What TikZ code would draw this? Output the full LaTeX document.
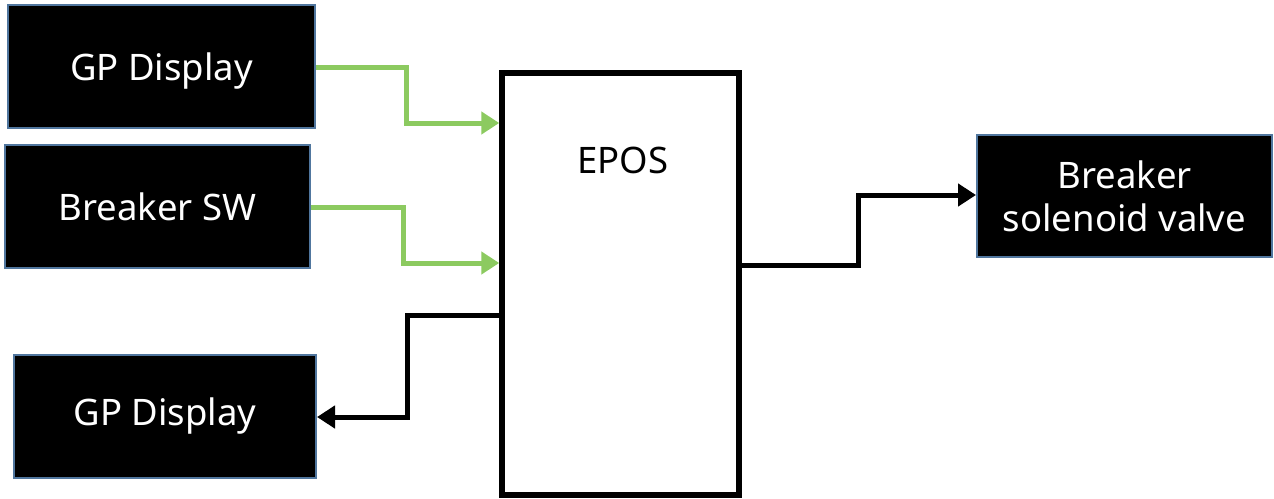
\documentclass[tikz,border=0pt]{standalone}
\usepackage{fontspec}
\setmainfont{Noto Sans}
\usetikzlibrary{arrows.meta}
\definecolor{boxedge}{RGB}{80,118,158}
\definecolor{sig}{RGB}{140,202,96}
\tikzset{
  x=1pt,y=-1pt,
  blk/.style={draw=boxedge,line width=2pt,fill=black,text=white,inner sep=0pt,
    font=\fontsize{36.5}{43}\selectfont,align=center},
  ctrl/.style={draw=black,line width=5.5pt,fill=white,inner sep=0pt},
  gline/.style={draw=sig,line width=5pt,-{Triangle[length=18pt,width=22pt]}},
  bline/.style={draw=black,line width=5pt,-{Triangle[length=18pt,width=22pt]}},
}
\begin{document}
\begin{tikzpicture}
\useasboundingbox (0,0) rectangle (1274,498);
\node[blk,minimum width=307pt,minimum height=123pt,text depth=-8pt] (gp1) at (161.5,66.5) {GP Display};
\node[blk,minimum width=305pt,minimum height=123pt] (bsw) at (157.5,206.5) {Breaker SW};
\node[blk,minimum width=302pt,minimum height=123pt] (gp2) at (165,416.5) {GP Display};
\node[blk,minimum width=295pt,minimum height=122pt] (sol) at (1124.5,196) {Breaker\\solenoid valve};
\node[ctrl,minimum width=237pt,minimum height=422pt] (epos) at (620.5,284) {};
\node[font=\fontsize{36.5}{43}\selectfont] (eposlbl) at (623,160) {EPOS};
\draw[gline] (gp1.east |- 0,67) -- (406,67) -- (406,123) -- (epos.west |- 0,123);
\draw[gline] (bsw.east |- 0,207) -- (403,207) -- (403,263) -- (epos.west |- 0,263);
\draw[bline] (epos.west |- 0,315) -- (407,315) -- (407,417) -- (gp2.east |- 0,417);
\draw[bline] (epos.east |- 0,265) -- (858,265) -- (858,195) -- (sol.west |- 0,195);
\end{tikzpicture}
\end{document}
